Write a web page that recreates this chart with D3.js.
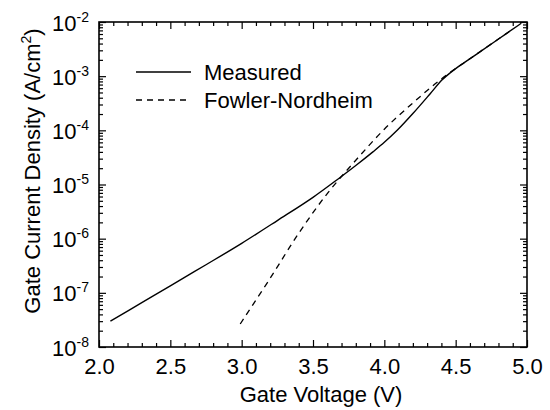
<!DOCTYPE html>
<html>
<head>
<meta charset="utf-8">
<script src="https://cdn.jsdelivr.net/npm/d3@7"></script>
<style>
  html, body { margin: 0; padding: 0; background: #fff; }
  svg { display: block; font-family: "Liberation Sans", Arial, Helvetica, sans-serif; }
</style>
</head>
<body>
<svg id="chart" width="550" height="410"></svg>
<script>
// Measured gate current density vs gate voltage
const voltageMeasured = [2.08, 2.3, 2.5, 2.75, 3.0, 3.25, 3.5, 3.69, 3.8, 3.92, 4.0, 4.09, 4.2, 4.32, 4.4, 4.44, 4.5, 4.56, 4.67, 4.8, 4.94, 4.96];
const currentMeasured = [3.0e-8, 6.6e-8, 1.35e-7, 3.3e-7, 8.2e-7, 2.16e-6, 5.8e-6, 1.35e-5, 2.24e-5, 4.0e-5, 6.0e-5, 1.0e-4, 2.04e-4, 4.7e-4, 8.3e-4, 1.035e-3, 1.38e-3, 1.78e-3, 2.8e-3, 4.85e-3, 8.7e-3, 9.5e-3];

// Fowler-Nordheim tunnelling model
const voltageFN = [2.99, 3.2, 3.4, 3.6, 3.8, 4.0, 4.2, 4.4, 4.6, 4.8, 4.9];
const currentFN = [2.66e-8, 1.86e-7, 1.26e-6, 6.8e-6, 2.8e-5, 1.05e-4, 3.2e-4, 8.9e-4, 2.1e-3, 4.85e-3, 7.4e-3];

// Axis ticks
const xMajorTicks = [2.0, 2.5, 3.0, 3.5, 4.0, 4.5, 5.0];
const yMajorExponents = [-8, -7, -6, -5, -4, -3, -2];

const seriesNames = ["Measured", "Fowler-Nordheim"];

const svg = d3.select("#chart");
const margin = { left: 99, right: 23, top: 22, bottom: 63 };
const W = 550, H = 410;
const pw = W - margin.left - margin.right;
const ph = H - margin.top - margin.bottom;

const x = d3.scaleLinear().domain([2.0, 5.0]).range([margin.left, margin.left + pw]);
const y = d3.scaleLog().domain([1e-8, 1e-2]).range([margin.top + ph, margin.top]);

const xMinor = d3.range(20, 51).map(v => v / 10).filter(v => Math.abs(v * 2 - Math.round(v * 2)) > 1e-6);
const yMinor = [];
yMajorExponents.slice(0, -1).forEach(e => { for (let m = 2; m <= 9; m++) yMinor.push(m * Math.pow(10, e)); });

const fontSize = 22;

function styleAxis(g) {
  g.select(".domain").remove();
  g.selectAll(".tick line").attr("stroke", "#000").attr("stroke-width", 1.2);
}

// Bottom axis (major with labels, minor without)
svg.append("g").attr("transform", `translate(0,${margin.top + ph})`)
  .call(d3.axisBottom(x).tickValues(xMajorTicks).tickSize(-7).tickPadding(11).tickFormat(d3.format(".1f")))
  .call(styleAxis)
  .call(g => g.selectAll("text").attr("font-size", fontSize).attr("fill", "#000").attr("font-family", null));
svg.append("g").attr("transform", `translate(0,${margin.top + ph})`)
  .call(d3.axisBottom(x).tickValues(xMinor).tickSize(-4).tickFormat(""))
  .call(styleAxis);

// Top axis ticks
svg.append("g").attr("transform", `translate(0,${margin.top})`)
  .call(d3.axisTop(x).tickValues(xMajorTicks).tickSize(-7).tickFormat(""))
  .call(styleAxis);
svg.append("g").attr("transform", `translate(0,${margin.top})`)
  .call(d3.axisTop(x).tickValues(xMinor).tickSize(-4).tickFormat(""))
  .call(styleAxis);

// Left axis with power-of-ten labels
const yMajorValues = yMajorExponents.map(e => Math.pow(10, e));
const leftAxis = svg.append("g").attr("transform", `translate(${margin.left},0)`)
  .call(d3.axisLeft(y).tickValues(yMajorValues).tickSize(-7).tickPadding(10).tickFormat(""))
  .call(styleAxis);
leftAxis.selectAll(".tick").each(function(d) {
  const t = d3.select(this).select("text")
    .attr("font-size", fontSize).attr("fill", "#000").attr("font-family", null)
    .attr("dy", null).attr("y", 8).attr("text-anchor", "end");
  t.text(null);
  t.append("tspan").text("10");
  t.append("tspan").attr("font-size", 14).attr("dy", -9).text(String(Math.round(Math.log10(d))));
});
svg.append("g").attr("transform", `translate(${margin.left},0)`)
  .call(d3.axisLeft(y).tickValues(yMinor).tickSize(-4).tickFormat(""))
  .call(styleAxis);

// Right axis ticks
svg.append("g").attr("transform", `translate(${margin.left + pw},0)`)
  .call(d3.axisRight(y).tickValues(yMajorValues).tickSize(-7).tickFormat(""))
  .call(styleAxis);
svg.append("g").attr("transform", `translate(${margin.left + pw},0)`)
  .call(d3.axisRight(y).tickValues(yMinor).tickSize(-4).tickFormat(""))
  .call(styleAxis);

// Plot frame
svg.append("rect")
  .attr("x", margin.left).attr("y", margin.top)
  .attr("width", pw).attr("height", ph)
  .attr("fill", "none").attr("stroke", "#000").attr("stroke-width", 1.6);

// Curves
const line = d3.line()
  .x(d => x(d[0]))
  .y(d => y(d[1]))
  .curve(d3.curveCatmullRom.alpha(0.5));

const measured = voltageMeasured.map((v, i) => [v, currentMeasured[i]]);
const fn = voltageFN.map((v, i) => [v, currentFN[i]]);

svg.append("path").datum(fn)
  .attr("d", line).attr("fill", "none")
  .attr("stroke", "#000").attr("stroke-width", 1.3)
  .attr("stroke-dasharray", "6,5");

svg.append("path").datum(measured)
  .attr("d", line).attr("fill", "none")
  .attr("stroke", "#000").attr("stroke-width", 1.4);

// Legend
const legend = svg.append("g");
const legendRows = [
  { name: seriesNames[0], y: 72, dash: null },
  { name: seriesNames[1], y: 100, dash: "6,5" }
];
legendRows.forEach(r => {
  legend.append("line")
    .attr("x1", 136).attr("x2", 191).attr("y1", r.y).attr("y2", r.y)
    .attr("stroke", "#000").attr("stroke-width", 1.4)
    .attr("stroke-dasharray", r.dash);
  legend.append("text")
    .attr("x", 204).attr("y", r.y + 8)
    .attr("font-size", fontSize).attr("fill", "#000")
    .text(r.name);
});

// Axis titles
svg.append("text")
  .attr("x", 321).attr("y", 402)
  .attr("text-anchor", "middle")
  .attr("font-size", fontSize).attr("fill", "#000")
  .text("Gate Voltage (V)");

const yTitle = svg.append("text")
  .attr("transform", "translate(40,171) rotate(-90)")
  .attr("text-anchor", "middle")
  .attr("font-size", fontSize).attr("fill", "#000");
yTitle.append("tspan").text("Gate Current Density (A/cm");
yTitle.append("tspan").attr("font-size", 14).attr("dy", -9).text("2");
yTitle.append("tspan").attr("dy", 9).text(")");
</script>
</body>
</html>
